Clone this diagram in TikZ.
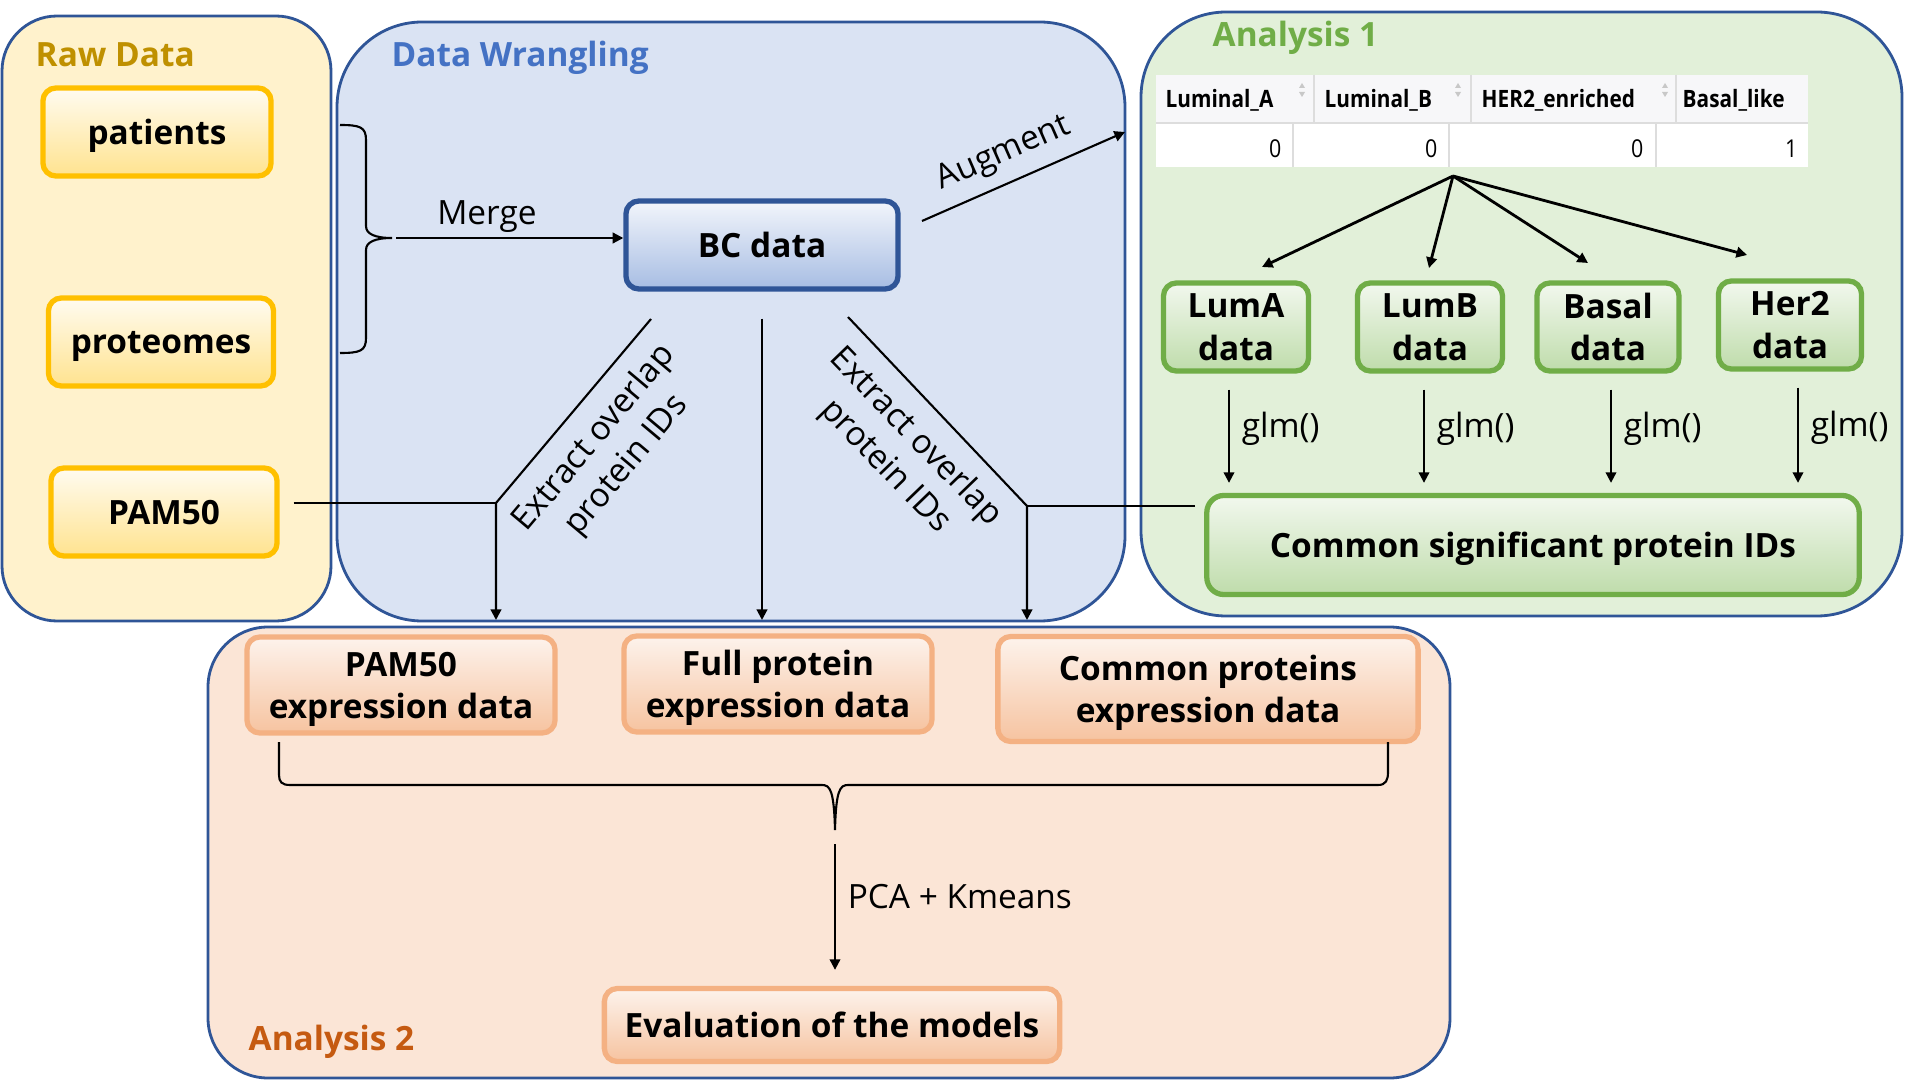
\documentclass[tikz,border=0pt]{standalone}
\usepackage{fontspec}
\setmainfont{Open Sans}
\newfontfamily\tablefont{Open Sans}[FakeStretch=0.87]
\usetikzlibrary{arrows.meta}
\definecolor{panelline}{HTML}{2F5597}
\definecolor{rawfill}{HTML}{FFF2CC}
\definecolor{wranglefill}{HTML}{DAE3F3}
\definecolor{anaonefill}{HTML}{E2F0D9}
\definecolor{anatwofill}{HTML}{FBE5D6}
\definecolor{rawtitle}{HTML}{BF9000}
\definecolor{wrangletitle}{HTML}{4472C4}
\definecolor{anaonetitle}{HTML}{70AD47}
\definecolor{anatwotitle}{HTML}{C55A11}
\definecolor{rawline}{HTML}{FFC000}
\definecolor{rawtop}{HTML}{FFFBF0}
\definecolor{rawbottom}{HTML}{FFE38F}
\definecolor{bcline}{HTML}{2F5597}
\definecolor{bctop}{HTML}{F2F5FB}
\definecolor{bcbottom}{HTML}{A7BDE3}
\definecolor{subline}{HTML}{70AD47}
\definecolor{subtop}{HTML}{F2F8EE}
\definecolor{subbottom}{HTML}{BFDCAB}
\definecolor{exprline}{HTML}{F4B183}
\definecolor{exprtop}{HTML}{FDF3EC}
\definecolor{exprbottom}{HTML}{F6C3A0}
\definecolor{tablehead}{HTML}{F7F7F9}
\definecolor{tablerule}{HTML}{DDDDDD}
\definecolor{sortmark}{HTML}{C8C8C8}

\begin{document}
\begin{tikzpicture}[x=0.01cm,y=-0.01cm,>={Triangle[length=3pt,width=3pt]},font=\fontsize{9.5}{12}\selectfont]
\tikzstyle{panel}=[draw=panelline, line width=0.8pt]
\tikzstyle{title}=[anchor=west, inner sep=0pt, font=\fontsize{9.5}{12}\selectfont\bfseries]
\tikzstyle{box}=[rectangle, inner sep=0pt, align=center, text depth=0pt, line width=1.5pt, rounded corners=0.13cm, font=\fontsize{9.5}{12}\selectfont\bfseries]
\tikzstyle{rawbox}=[box, draw=rawline, top color=rawtop, bottom color=rawbottom, minimum width=2.28cm, minimum height=0.88cm]
\tikzstyle{bcbox}=[box, draw=bcline, top color=bctop, bottom color=bcbottom, minimum width=2.72cm, minimum height=0.88cm]
\tikzstyle{subbox}=[box, draw=subline, top color=subtop, bottom color=subbottom, minimum width=1.45cm, minimum height=0.88cm]
\tikzstyle{exprbox}=[box, draw=exprline, top color=exprtop, bottom color=exprbottom, minimum width=3.08cm, minimum height=0.96cm]
\tikzstyle{headcell}=[anchor=west, inner sep=0pt, font=\tablefont\fontsize{6.8}{8}\selectfont\bfseries]
\tikzstyle{numcell}=[anchor=east, inner sep=0pt, font=\tablefont\fontsize{7}{8}\selectfont]
\tikzstyle{flow}=[line width=0.6pt]
\useasboundingbox (0,0) rectangle (1920,1082);

\draw[panel, fill=rawfill, rounded corners=0.55cm] (2,16) rectangle (331,621);
\draw[panel, fill=wranglefill, rounded corners=0.85cm] (337,22) rectangle (1125,621);
\draw[panel, fill=anaonefill, rounded corners=0.85cm] (1141,12) rectangle (1902,616);
\draw[panel, fill=anatwofill, rounded corners=0.6cm] (208,627) rectangle (1450,1078);

\node[title, text=rawtitle] (RAWT) at (35,55) {Raw Data};
\node[title, text=wrangletitle] (WRANGLET) at (391,58) {Data Wrangling};
\node[title, text=anaonetitle] (ANAONET) at (1212,38) {Analysis 1};
\node[title, text=anatwotitle] (ANATWOT) at (248,1042) {Analysis 2};

\fill[tablehead] (1156,75) rectangle (1808,123);
\fill[white] (1156,123) rectangle (1808,167);
\draw[tablerule, line width=0.8pt] (1156,123) -- (1808,123);
\foreach \x in {1314,1471,1676} \draw[tablerule] (\x,75) -- (\x,123);
\foreach \x in {1293,1449,1656} \draw[tablerule] (\x,123) -- (\x,167);
\foreach \x in {1302,1458,1665} {
  \fill[sortmark] (\x-3,88) -- (\x+3,88) -- (\x,83) -- cycle;
  \fill[sortmark] (\x-3,92) -- (\x+3,92) -- (\x,97) -- cycle;
}
\node[headcell] (HLA) at (1165,100) {Luminal\_A};
\node[headcell] (HLB) at (1324,100) {Luminal\_B};
\node[headcell] (HHER) at (1481,100) {HER2\_enriched};
\node[headcell] (HBAS) at (1682,100) {Basal\_like};
\node[numcell] (NLA) at (1282,149) {0};
\node[numcell] (NLB) at (1438,149) {0};
\node[numcell] (NHER) at (1644,149) {0};
\node[numcell] (NBAS) at (1798,149) {1};

\node[rawbox] (PATIENTS) at (157,132) {patients};
\node[rawbox, minimum width=2.25cm] (PROTEOMES) at (161,342) {proteomes};
\node[rawbox, minimum width=2.26cm] (PAM) at (164,512) {PAM50};
\node[bcbox] (BC) at (762,245) {BC data};
\node[subbox] (LUMA) at (1236,327) {LumA\\data};
\node[subbox] (LUMB) at (1430,327) {LumB\\data};
\node[subbox, minimum width=1.42cm] (BASAL) at (1608,327) {Basal\\data};
\node[subbox, minimum width=1.43cm] (HER) at (1790,325) {Her2\\data};
\node[subbox, minimum width=6.52cm, minimum height=0.99cm, rounded corners=0.17cm] (COMMON) at (1533,545) {Common significant protein IDs};
\node[exprbox] (PAMEXPR) at (401,685) {PAM50\\expression data};
\node[exprbox] (FULLEXPR) at (778,684) {Full protein\\expression data};
\node[exprbox, minimum width=4.2cm, minimum height=1.05cm] (COMMONEXPR) at (1208,689) {Common proteins\\expression data};
\node[exprbox, minimum width=4.55cm, minimum height=0.73cm] (EVAL) at (832,1025) {Evaluation of the models};

\draw[flow] (340,125) .. controls (360,125) and (366,127) .. (366,140) -- (366,226)
  .. controls (366,234) and (375,238) .. (392,238) .. controls (375,238) and (366,242) .. (366,250)
  -- (366,338) .. controls (366,351) and (360,353) .. (340,353);
\coordinate (MERGETIP) at (396,238);
\draw[flow,->] (MERGETIP) -- node[pos=0.4, above=-2pt] {Merge} (MERGETIP -| BC.west);

\coordinate (AUGSTART) at (922,221);
\coordinate (AUGEND) at (1125,132);
\draw[flow,->] (AUGSTART) -- node[pos=0.46, sloped, above] {Augment} (AUGEND);

\coordinate (LEFTTOP) at (651,319);
\coordinate (LEFTBEND) at (496,503);
\coordinate (LEFTEND) at (496,620);
\coordinate (RIGHTTOP) at (848,317);
\coordinate (RIGHTBEND) at (1027,506);
\coordinate (RIGHTEND) at (1027,620);
\draw[flow,->] (LEFTTOP) -- (LEFTBEND) -- (LEFTEND);
\draw[flow] ([xshift=0.14cm]PAM.east |- LEFTBEND) -- (LEFTBEND);
\draw[flow,->] ([yshift=-0.27cm]BC.south) -- (BC.south |- LEFTEND);
\draw[flow,->] (RIGHTTOP) -- (RIGHTBEND) -- (RIGHTEND);
\draw[flow] ([xshift=-0.09cm]COMMON.west |- RIGHTBEND) -- (RIGHTBEND);
\node[rotate=50, align=center] (EXTRACTL) at (611,452) {Extract overlap\\protein IDs};
\node[rotate=-46, align=center] (EXTRACTR) at (900,452) {Extract overlap\\protein IDs};

\coordinate (FAN) at (1453,176);
\coordinate (TA) at (1262,267);
\coordinate (TB) at (1429,268);
\coordinate (TC) at (1588,263);
\coordinate (TD) at (1747,255);
\path[flow, line width=0.8pt, ->] (FAN) edge (TA) edge (TB) edge (TC) edge (TD);

\foreach \n/\dx in {LUMA/-7,LUMB/-6,BASAL/3,HER/8}
  \draw[flow,->,shorten >=0.1cm] ([xshift=\dx*0.01cm, yshift=-0.16cm]\n.south) -- node[pos=0.38, right] {glm()} ([xshift=\dx*0.01cm]\n.south |- COMMON.north);

\draw[flow] (279,742) -- (279,775) .. controls (279,782) and (282,785) .. (290,785) -- (822,785)
  .. controls (830,785) and (834,790) .. (835,830) .. controls (836,790) and (840,785) .. (848,785)
  -- (1378,785) .. controls (1386,785) and (1388,780) .. (1388,772) -- (1388,742);
\coordinate (BRACETIP) at (835,844);
\draw[flow,->,shorten >=0.16cm] (BRACETIP) -- node[pos=0.37, right] {PCA + Kmeans} (BRACETIP |- EVAL.north);
\end{tikzpicture}
\end{document}
